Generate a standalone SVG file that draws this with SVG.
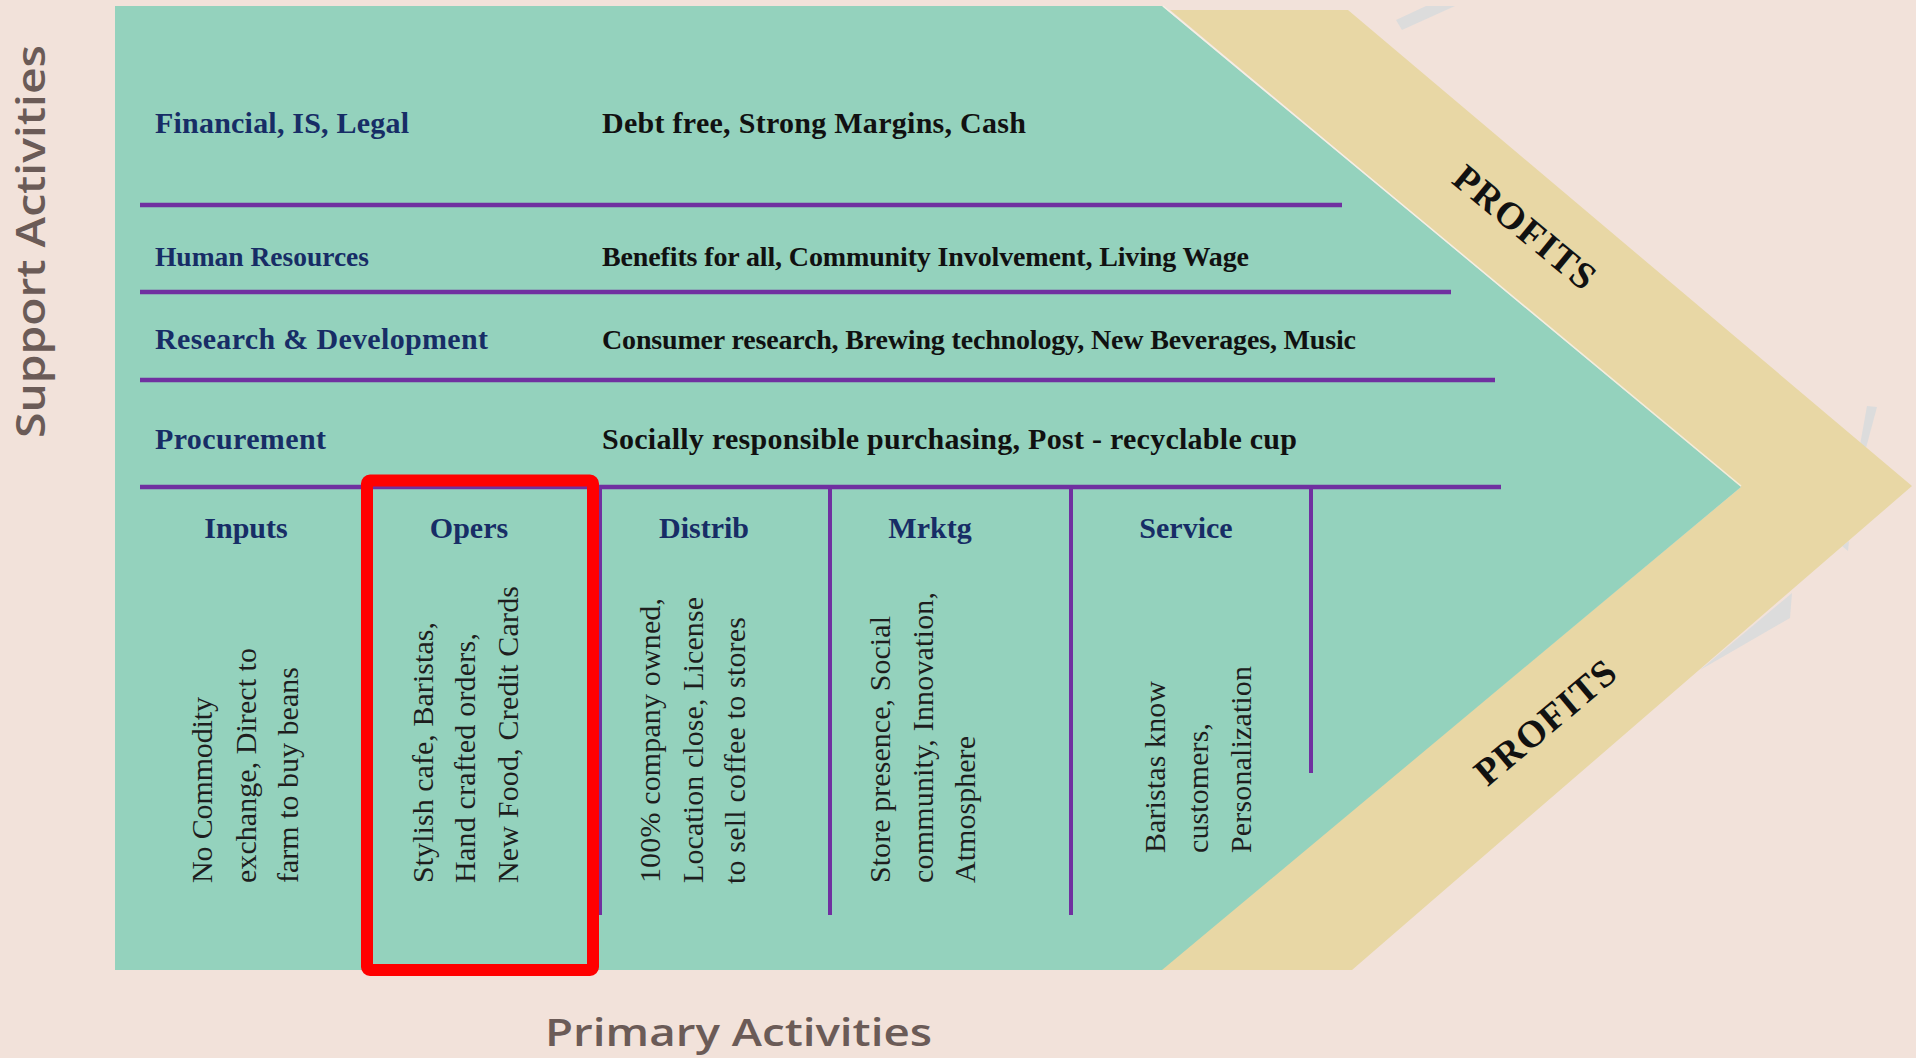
<svg xmlns="http://www.w3.org/2000/svg" width="1916" height="1058" viewBox="0 0 1916 1058">
  <style>
    .lbl { font-family: "Liberation Serif", "Times New Roman", serif; font-weight: bold; font-size: 30px; fill: #172d66; }
    .val { font-family: "Liberation Serif", "Times New Roman", serif; font-weight: bold; font-size: 30px; fill: #111111; }
    .hdr { font-family: "Liberation Serif", "Times New Roman", serif; font-weight: bold; font-size: 30px; fill: #172d66; text-anchor: middle; }
    .col { font-family: "Liberation Serif", "Times New Roman", serif; font-size: 30px; fill: #1e1e1e; }
    .axis { font-family: "Open Sans", "DejaVu Sans", "Liberation Sans", sans-serif; font-weight: 600; font-size: 39px; fill: #6b5b57; }
    .profit { font-family: "Liberation Serif", "Times New Roman", serif; font-weight: bold; font-size: 38px; fill: #111111; text-anchor: middle; }
    .hline { stroke: #7030a0; stroke-width: 4.5; fill: none; }
    .vline { stroke: #7030a0; stroke-width: 4; fill: none; }
    .shadow { fill: #dcdcdc; }
  </style>

  <rect x="0" y="0" width="1916" height="1058" fill="#f2e2da"/>

  <g id="shadows">
    <polygon class="shadow" points="1396,20 1426,6 1455,6 1402,30"/>
    <polygon class="shadow" points="1867,406 1877,407 1866,448 1860,445"/>
    <polygon class="shadow" points="1700,670 1792,593 1790,618"/>
    <polygon class="shadow" points="1842,546 1849,541 1848,551"/>
  </g>

  <g id="profit-chevron">
    <polygon points="1170,10 1348,10 1912,486 1352,970 1160,970 1741,487" fill="#e8d7a5"/>
  </g>

  <g id="value-chain-body">
    <polygon points="115,6 1162,6 1741,487 1162,970 115,970" fill="#94d2bd"/>
    <line x1="1163" y1="6" x2="1741" y2="486" stroke="#f6f3ea" stroke-width="1.5" opacity="0.8"/>
  </g>

  <g id="connectors">
    <line class="hline" x1="140" y1="205" x2="1342" y2="205"/>
    <line class="hline" x1="140" y1="292" x2="1451" y2="292"/>
    <line class="hline" x1="140" y1="380" x2="1495" y2="380"/>
    <line class="hline" x1="140" y1="487" x2="1501" y2="487"/>
    <line class="vline" x1="600" y1="487" x2="600" y2="915"/>
    <line class="vline" x1="830" y1="487" x2="830" y2="915"/>
    <line class="vline" x1="1071" y1="487" x2="1071" y2="915"/>
    <line class="vline" x1="1311" y1="487" x2="1311" y2="773"/>
  </g>

  <g id="support-financial">
    <text class="lbl" x="155" y="133" textLength="254">Financial, IS, Legal</text>
    <text class="val" x="602" y="133" textLength="424">Debt free, Strong Margins, Cash</text>
  </g>
  <g id="support-hr">
    <text class="lbl" x="155" y="266" style="font-size:27.5px" textLength="214">Human Resources</text>
    <text class="val" x="602" y="266" style="font-size:28px" textLength="647">Benefits for all, Community Involvement, Living Wage</text>
  </g>
  <g id="support-rd">
    <text class="lbl" x="155" y="349" textLength="333">Research &amp; Development</text>
    <text class="val" x="602" y="349" style="font-size:28px" textLength="754">Consumer research, Brewing technology, New Beverages, Music</text>
  </g>
  <g id="support-procurement">
    <text class="lbl" x="155" y="449" textLength="171">Procurement</text>
    <text class="val" x="602" y="449" textLength="695">Socially responsible purchasing, Post - recyclable cup</text>
  </g>

  <g id="primary-inputs">
    <text class="hdr" x="246" y="538">Inputs</text>
    <text class="col" transform="translate(212,883) rotate(-90)" textLength="186">No Commodity</text>
    <text class="col" transform="translate(256,883) rotate(-90)" textLength="235">exchange, Direct to</text>
    <text class="col" transform="translate(298,883) rotate(-90)" textLength="216">farm to buy beans</text>
  </g>
  <g id="primary-opers">
    <text class="hdr" x="469" y="538">Opers</text>
    <text class="col" transform="translate(433,883) rotate(-90)" textLength="261">Stylish cafe, Baristas,</text>
    <text class="col" transform="translate(475,883) rotate(-90)" textLength="250">Hand crafted orders,</text>
    <text class="col" transform="translate(518,883) rotate(-90)" textLength="297">New Food, Credit Cards</text>
  </g>
  <g id="primary-distrib">
    <text class="hdr" x="704" y="538">Distrib</text>
    <text class="col" transform="translate(660,883) rotate(-90)" textLength="285">100% company owned,</text>
    <text class="col" transform="translate(703,883) rotate(-90)" textLength="286">Location close, License</text>
    <text class="col" transform="translate(745,884) rotate(-90)" textLength="267">to sell coffee to stores</text>
  </g>
  <g id="primary-mrktg">
    <text class="hdr" x="930" y="538">Mrktg</text>
    <text class="col" transform="translate(890,883) rotate(-90)" textLength="267">Store presence, Social</text>
    <text class="col" transform="translate(933,883) rotate(-90)" textLength="291">community, Innovation,</text>
    <text class="col" transform="translate(975,883) rotate(-90)" textLength="147">Atmosphere</text>
  </g>
  <g id="primary-service">
    <text class="hdr" x="1186" y="538">Service</text>
    <text class="col" transform="translate(1165,853) rotate(-90)" textLength="172">Baristas know</text>
    <text class="col" transform="translate(1208,853) rotate(-90)" textLength="130">customers,</text>
    <text class="col" transform="translate(1251,853) rotate(-90)" textLength="187">Personalization</text>
  </g>

  <g id="highlight-opers">
    <rect x="367" y="480.5" width="226" height="489.5" rx="3" fill="none" stroke="#ff0000" stroke-width="12"/>
  </g>

  <g id="profits-top">
    <text class="profit" transform="translate(1525,227) rotate(39.5)" x="0" y="13" textLength="172">PROFITS</text>
  </g>
  <g id="profits-bottom">
    <text class="profit" transform="translate(1545,722) rotate(-40)" x="0" y="13" textLength="172">PROFITS</text>
  </g>

  <g id="axis-labels">
    <text class="axis" transform="translate(45,438) rotate(-90)" textLength="393" lengthAdjust="spacingAndGlyphs">Support Activities</text>
    <text class="axis" x="545" y="1046" style="font-size:38px" textLength="387" lengthAdjust="spacingAndGlyphs">Primary Activities</text>
  </g>
</svg>
